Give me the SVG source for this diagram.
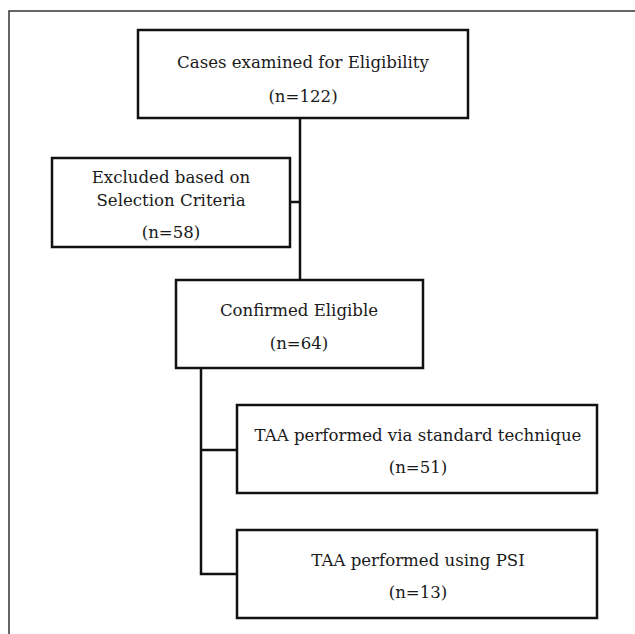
<svg xmlns="http://www.w3.org/2000/svg" width="635" height="634" viewBox="0 0 635 634">
<style>
.box{fill:#fff;stroke:#111;stroke-width:2.5}
.ln{stroke:#111;stroke-width:2.5;fill:none}
.frame{stroke:#333;stroke-width:1.5;fill:none}
text{font-family:"DejaVu Serif","Liberation Serif",serif;font-size:16.6px;fill:#1a1a1a;text-anchor:middle}
</style>
<rect width="635" height="634" fill="#fff"/>
<path class="frame" d="M9,634 V11 H635"/>
<g id="connectors">
<line class="ln" x1="300" y1="118" x2="300" y2="280"/>
<line class="ln" x1="290" y1="202" x2="300" y2="202"/>
<polyline class="ln" points="201,368 201,574 237,574"/>
<line class="ln" x1="201" y1="450" x2="237" y2="450"/>
</g>
<g id="cases">
<rect class="box" x="138" y="30" width="330" height="88"/>
<text x="303" y="68">Cases examined for Eligibility</text>
<text x="303" y="102">(n=122)</text>
</g>
<g id="excluded">
<rect class="box" x="52" y="158" width="238" height="89"/>
<text x="171" y="183">Excluded based on</text>
<text x="171" y="206">Selection Criteria</text>
<text x="171" y="238">(n=58)</text>
</g>
<g id="confirmed">
<rect class="box" x="176" y="280" width="247" height="88"/>
<text x="299" y="316">Confirmed Eligible</text>
<text x="299" y="349">(n=64)</text>
</g>
<g id="standard">
<rect class="box" x="237" y="405" width="360" height="88"/>
<text x="418" y="441">TAA performed via standard technique</text>
<text x="418" y="473">(n=51)</text>
</g>
<g id="psi">
<rect class="box" x="237" y="530" width="360" height="88"/>
<text x="418" y="566">TAA performed using PSI</text>
<text x="418" y="598">(n=13)</text>
</g>
</svg>
